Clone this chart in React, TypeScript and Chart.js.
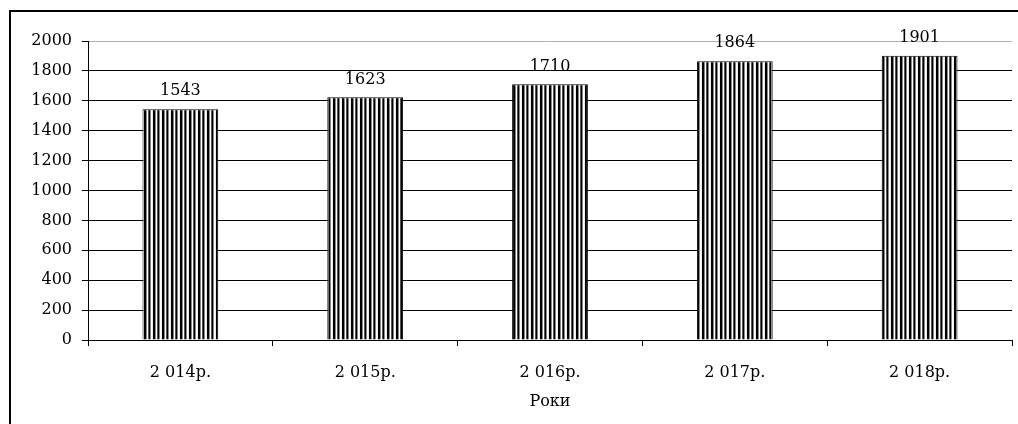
import React, { useEffect, useRef } from "react";
import { Chart, registerables } from "chart.js";

Chart.register(...registerables);

const categories = ["2 014р.", "2 015р.", "2 016р.", "2 017р.", "2 018р."];
const values = [1543, 1623, 1710, 1864, 1901];
const xTitle = "Роки";
const yMin = 0;
const yMax = 2000;
const yStep = 200;

const FONT = "'DejaVu Serif', 'Liberation Serif', serif";
const FSIZE = 16;

function makePattern(): CanvasPattern | string {
  const cols = ["#000", "#000", "#888", "#fff", "#555", "#000", "#888", "#fff", "#eee"];
  const c = document.createElement("canvas");
  c.width = cols.length;
  c.height = 4;
  const g = c.getContext("2d");
  if (!g) return "#000";
  cols.forEach((col, i) => {
    g.fillStyle = col;
    g.fillRect(i, 0, 1, 4);
  });
  const p = g.createPattern(c, "repeat");
  return p || "#000";
}

const frame = {
  id: "frame",
  afterDraw(chart: any) {
    const ctx = chart.ctx;
    ctx.save();
    ctx.strokeStyle = "#000";
    ctx.lineWidth = 2;
    ctx.beginPath();
    ctx.moveTo(10, 424);
    ctx.lineTo(10, 11);
    ctx.lineTo(1018, 11);
    ctx.stroke();
    ctx.restore();
  },
};

const valueLabels = {
  id: "valueLabels",
  afterDatasetsDraw(chart: any) {
    const ctx = chart.ctx;
    const meta = chart.getDatasetMeta(0);
    ctx.save();
    ctx.fillStyle = "#000";
    ctx.font = `${FSIZE}px ${FONT}`;
    ctx.textAlign = "center";
    ctx.textBaseline = "bottom";
    meta.data.forEach((el: any, i: number) => {
      ctx.fillText(String(values[i]), el.x, el.y - 10);
    });
    ctx.restore();
  },
};

export default function App() {
  const ref = useRef<HTMLCanvasElement | null>(null);
  useEffect(() => {
    document.body.style.margin = "0";
    const canvas = ref.current;
    if (!canvas) return;
    const chart = new Chart(canvas, {
      type: "bar",
      data: {
        labels: categories,
        datasets: [
          {
            data: values,
            backgroundColor: makePattern() as any,
            borderColor: "#000",
            borderWidth: 1,
            categoryPercentage: 1,
            barPercentage: 0.41,
          },
        ],
      },
      options: {
        animation: false,
        responsive: false,
        maintainAspectRatio: false,
        layout: { padding: { left: 0, right: 6, top: 41, bottom: 13 } },
        plugins: {
          legend: { display: false },
          tooltip: { enabled: false },
          title: { display: false },
        },
        scales: {
          x: {
            afterFit(scale: any) {
              scale.height = 71;
            },
            grid: {
              display: true,
              drawOnChartArea: false,
              drawTicks: true,
              tickLength: 6,
              color: "#000",
              offset: true,
            },
            border: { display: true, color: "#000", width: 1 },
            ticks: {
              color: "#000",
              font: { family: FONT, size: FSIZE },
              padding: 17,
            },
            title: {
              display: true,
              text: xTitle,
              color: "#000",
              font: { family: FONT, size: FSIZE },
              padding: { top: 6, bottom: 0 },
            },
          },
          y: {
            min: yMin,
            max: yMax,
            afterFit(scale: any) {
              scale.width = 88;
            },
            grid: {
              color: (c: any) => (c.tick && c.tick.value === yMax ? "#b0b0b0" : "#000"),
              tickColor: "#000",
              tickLength: 6,
              lineWidth: 1,
            },
            border: { display: true, color: "#000", width: 1 },
            ticks: {
              stepSize: yStep,
              color: "#000",
              font: { family: FONT, size: FSIZE },
              padding: 10,
              callback: (v: any) => String(v),
            },
          },
        },
      },
      plugins: [frame, valueLabels],
    });
    return () => chart.destroy();
  }, []);
  return (
    <div style={{ position: "absolute", left: 0, top: 0, width: 1018, height: 424, background: "#fff" }}>
      <canvas ref={ref} width={1018} height={424} style={{ width: 1018, height: 424 }} />
    </div>
  );
}
